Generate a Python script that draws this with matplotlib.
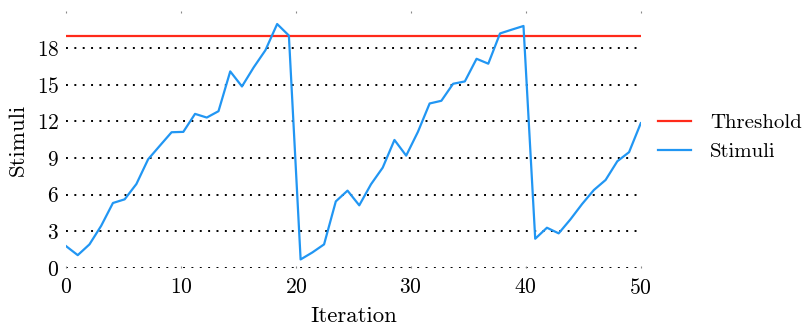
import numpy as np
import matplotlib
matplotlib.use("Agg")
import matplotlib.pyplot as plt

# --- Datos ---
threshold = 19.0
stimuli = [
    1.8, 1.06, 1.94, 3.46, 5.32, 5.62, 6.87, 8.89, 10.0, 11.1,
    11.13, 12.6, 12.3, 12.82, 16.07, 14.84, 16.4, 17.8, 19.94, 19.0,
    0.71, 1.28, 1.94, 5.45, 6.33, 5.13, 6.85, 8.21, 10.47, 9.19,
    11.13, 13.45, 13.67, 15.06, 15.25, 17.1, 16.7, 19.17, 19.48, 19.78,
    2.4, 3.3, 2.84, 3.98, 5.24, 6.38, 7.2, 8.73, 9.47, 11.84,
]
iterations = np.linspace(0, 50, len(stimuli))
x_ticks = [0, 10, 20, 30, 40, 50]
y_ticks = [0, 3, 6, 9, 12, 15, 18]

plt.rcParams["font.family"] = ["cmr10", "DejaVu Serif"]
plt.rcParams["mathtext.fontset"] = "cm"
plt.rcParams["axes.formatter.use_mathtext"] = True

fig = plt.figure(figsize=(8.05, 3.25), dpi=100)
ax = fig.add_axes([0.082, 0.175, 0.714, 0.791])

for y in y_ticks:
    ax.axhline(y, color="black", linestyle=(0, (1, 3.3)), linewidth=1.4, zorder=1)

ax.plot([0, 50], [threshold, threshold], color="#ff2a1a", linewidth=1.6, label="Threshold", zorder=3)
ax.plot(iterations, stimuli, color="#2196f3", linewidth=1.6, label="Stimuli", zorder=3)

ax.set_xlim(0, 50)
ax.set_ylim(0, 21)
ax.set_xticks(x_ticks)
ax.set_yticks(y_ticks)
for s in ax.spines.values():
    s.set_visible(False)
ax.tick_params(axis="both", length=0, labelsize=15.5)
ax.tick_params(axis="x", pad=7)
ax.tick_params(axis="y", pad=5)
ax.tick_params(axis="x", top=True, direction="in", length=1.5, color="#888888")

ax.set_xlabel("Iteration", fontsize=16.5, labelpad=6)
ax.set_ylabel("Stimuli", fontsize=16.5, labelpad=6)

ax.legend(loc="center left", bbox_to_anchor=(1.015, 0.51), frameon=False, fontsize=15,
          handlelength=1.6, handletextpad=0.9, labelspacing=0.5,
          borderaxespad=0.2, borderpad=0.2)

fig.savefig("out.png", dpi=100)
